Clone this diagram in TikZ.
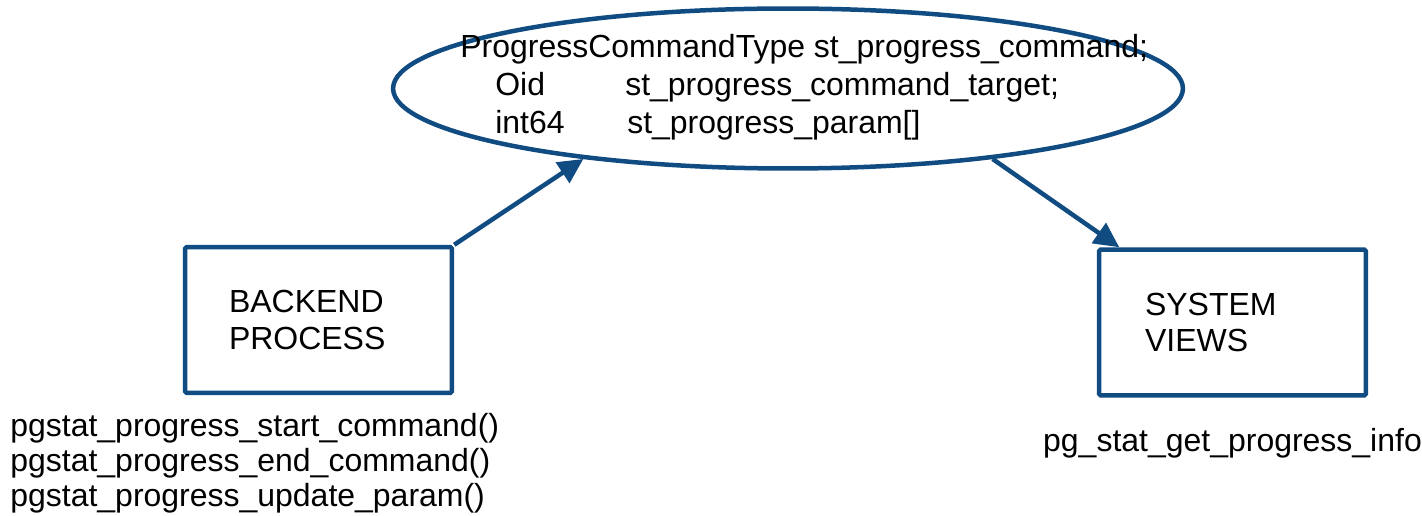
\documentclass[tikz,border=0pt]{standalone}
\usepackage{fontspec}
\setmainfont{Liberation Sans}
\usetikzlibrary{positioning,shapes.geometric,arrows.meta}
\definecolor{pgblue}{RGB}{16,76,130}

\begin{document}
\begin{tikzpicture}[x=0.02cm, y=-0.02cm, node distance=0.6cm,
	every node/.style={font=\fontsize{18.2}{21}\selectfont, inner sep=0pt},
	box/.style={rectangle, draw=pgblue, line width=0.09cm, rounded corners=1pt, minimum width=5.34cm, minimum height=2.92cm, align=left},
	flow/.style={-{Triangle[length=0.5cm,width=0.48cm]}, draw=pgblue, line width=0.09cm}]
	\useasboundingbox (0,0) rectangle (1422,516);

	\node[ellipse, draw=pgblue, line width=0.09cm, minimum width=15.8cm, minimum height=3.2cm] (ell) at (788,88.5) {};
	\node[anchor=base west, align=left, font=\fontsize{18.2}{21.8}\selectfont] (fields) at (460,134) {ProgressCommandType st\_progress\_command;\\
		\hspace*{0.7cm}\makebox[2.6cm][l]{Oid}st\_progress\_command\_target;\\
		\hspace*{0.7cm}\makebox[2.64cm][l]{int64}st\_progress\_param[]};

	\node[box, text width=3.58cm] (bp) at (318.5,320) {BACKEND\\PROCESS};
	\node[box, text width=3.5cm] (sv) at (1232.5,322.5) {SYSTEM\\VIEWS};

	\node[anchor=base west, align=left, font=\fontsize{18.2}{19.9}\selectfont] (calls) at (10,506) {pgstat\_progress\_start\_command()\\pgstat\_progress\_end\_command()\\pgstat\_progress\_update\_param()};
	\node[below=0.6cm of sv] (info) {pg\_stat\_get\_progress\_info};

	\draw[flow] (bp.north east) -- (ell.199);
	\draw[flow] (ell.341) -- ([xshift=0.45cm]sv.north west);
	
\end{tikzpicture}
\end{document}
